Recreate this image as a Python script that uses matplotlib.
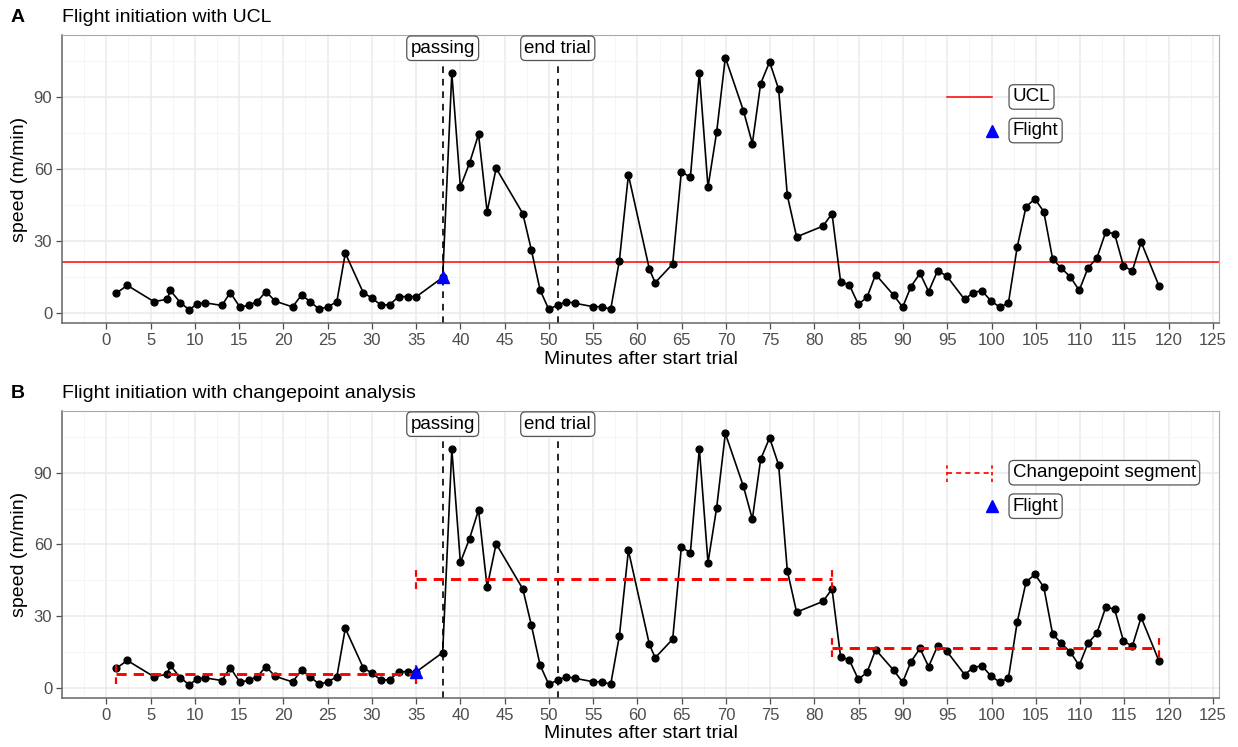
import numpy as np
import matplotlib
matplotlib.use('Agg')
import matplotlib.pyplot as plt
from matplotlib.ticker import MultipleLocator

plt.rcParams['font.family'] = ['Liberation Sans', 'DejaVu Sans']

# minutes after start of trial and speed (m/min)
minutes = [1.13, 2.37, 5.38, 6.89, 7.23, 8.36, 9.37, 10.3, 11.2, 13.06,
           14.0, 15.1, 16.07, 17.05, 18.03, 19.08, 21.04, 22.06, 23.04, 24.05,
           25.03, 26.04, 27.0, 29.02, 30.04, 31.05, 32.03, 33.04, 34.06, 35.04,
           38.0, 39.03, 40.0, 41.03, 42.05, 43.02, 44.04, 47.05, 48.02, 49.0,
           49.98, 51.0, 51.97, 52.99, 54.99, 56.0, 56.98, 57.96, 58.98, 61.35,
           62.0, 63.98, 64.96, 65.98, 66.99, 67.97, 68.95, 69.93, 71.97, 72.98,
           73.92, 74.93, 75.95, 76.93, 77.98, 80.97, 81.98, 82.95, 83.93, 84.95,
           85.93, 86.91, 88.94, 89.96, 90.9, 91.92, 92.89, 93.91, 94.93, 96.96,
           97.93, 98.91, 99.93, 100.9, 101.9, 102.9, 103.9, 104.9, 105.9, 106.9,
           107.9, 108.9, 109.9, 110.9, 111.9, 112.9, 113.9, 114.9, 115.9, 116.9,
           118.9]
speed = [8.2, 11.5, 4.7, 5.7, 9.4, 4.3, 1.3, 3.9, 4.2, 3.1,
         8.5, 2.4, 3.2, 4.7, 8.9, 4.9, 2.5, 7.5, 4.7, 1.5,
         2.6, 4.6, 24.9, 8.5, 6.1, 3.2, 3.5, 6.8, 6.8, 6.8,
         14.8, 99.9, 52.5, 62.4, 74.4, 42.2, 60.3, 41.4, 26.2, 9.6,
         1.5, 3.3, 4.7, 4.0, 2.6, 2.6, 1.5, 21.8, 57.5, 18.2,
         12.6, 20.4, 58.9, 56.5, 100.1, 52.4, 75.4, 106.4, 84.3, 70.6,
         95.6, 104.6, 93.2, 49.0, 31.7, 36.2, 41.4, 13.0, 11.7, 3.6,
         6.5, 16.0, 7.4, 2.4, 11.0, 16.5, 8.9, 17.6, 15.4, 5.6,
         8.5, 9.3, 5.0, 2.5, 4.0, 27.5, 44.3, 47.5, 42.2, 22.5,
         18.6, 15.0, 9.4, 18.75, 22.9, 33.75, 33.0, 19.6, 17.5, 29.5,
         11.4]

ucl = 21.1
passing_time = 38
end_trial_time = 51
flight_ucl = (38.0, 14.8)
flight_cp = (35.04, 6.8)

seg_start = [1.13, 35.04, 81.98]
seg_end = [35.04, 81.98, 118.9]
seg_mean = [5.8, 45.5, 16.8]
seg_tick = 4.0

xticks = list(range(0, 130, 5))
yticks = [0, 30, 60, 90]

fig = plt.figure(figsize=(12.38, 7.47), dpi=100)
axA = fig.add_axes([0.0501, 0.5676, 0.9346, 0.3855])
axB = fig.add_axes([0.0501, 0.0656, 0.9346, 0.3842])

label_box = dict(boxstyle='round,pad=0.2,rounding_size=0.25', fc='white',
                 ec='#555555', lw=0.9)
LBL = 13.5


def base(ax):
    ax.set_xlim(-5, 125.7)
    ax.set_ylim(-4.2, 115.8)
    ax.set_xticks(xticks)
    ax.set_yticks(yticks)
    ax.xaxis.set_minor_locator(MultipleLocator(2.5))
    ax.yaxis.set_minor_locator(MultipleLocator(15))
    ax.grid(which='major', color='#ebebeb', lw=1.1, zorder=0)
    ax.grid(which='minor', color='#f4f4f4', lw=0.6, zorder=0)
    ax.set_axisbelow(True)
    ax.tick_params(which='major', labelsize=12, colors='#4d4d4d', length=4,
                   width=0.9, pad=3)
    ax.tick_params(which='minor', length=0)
    for s in ['top', 'right']:
        ax.spines[s].set_color('#aaaaaa')
        ax.spines[s].set_linewidth(0.8)
    for s in ['left', 'bottom']:
        ax.spines[s].set_color('#666666')
        ax.spines[s].set_linewidth(1.1)
    ax.set_xlabel('Minutes after start trial', fontsize=14, labelpad=2)
    ax.set_ylabel('speed (m/min)', fontsize=14, labelpad=4)

    ax.plot(minutes, speed, color='black', lw=1.2, zorder=3)
    ax.scatter(minutes, speed, s=24, color='black', zorder=4)

    for t, lab in [(passing_time, 'passing'), (end_trial_time, 'end trial')]:
        ax.axvline(t, color='black', lw=1.2, ls=(0, (4, 3.5)), zorder=2)
        ax.text(t, 110.3, lab, ha='center', va='center', fontsize=LBL,
                bbox=label_box, zorder=6)


# Panel A
base(axA)
axA.axhline(ucl, color='#ff0000', lw=1.1, zorder=2)
axA.plot(*flight_ucl, marker='^', color='#0000ff', ms=9, zorder=5, ls='none')
axA.plot([95, 100], [90, 90], color='#ff0000', lw=1.1)
axA.plot(100, 76, marker='^', color='#0000ff', ms=9, ls='none')
axA.text(102.4, 90, 'UCL', ha='left', va='center', fontsize=LBL, bbox=label_box)
axA.text(102.4, 76, 'Flight', ha='left', va='center', fontsize=LBL, bbox=label_box)

# Panel B
base(axB)
for x0, x1, m in zip(seg_start, seg_end, seg_mean):
    axB.plot([x0, x1], [m, m], color='#ff0000', lw=2.1, ls=(0, (3.5, 2.4)), zorder=5)
    for xe in (x0, x1):
        axB.plot([xe, xe], [m - seg_tick, m + seg_tick], color='#ff0000',
                 lw=1.6, ls=(0, (3, 2.5)), zorder=5)
axB.plot(*flight_cp, marker='^', color='#0000ff', ms=9, zorder=6, ls='none')
axB.plot([95, 100], [90, 90], color='#ff0000', lw=1.2, ls=(0, (3, 2.5)))
for xe in (95, 100):
    axB.plot([xe, xe], [90 - seg_tick, 90 + seg_tick], color='#ff0000', lw=1.2,
             ls=(0, (2, 2)))
axB.plot(100, 76, marker='^', color='#0000ff', ms=9, ls='none')
axB.text(102.4, 90, 'Changepoint segment', ha='left', va='center', fontsize=LBL,
         bbox=label_box)
axB.text(102.4, 76, 'Flight', ha='left', va='center', fontsize=LBL, bbox=label_box)

# panel titles
fig.text(0.0088, 0.976, 'A', fontsize=14, fontweight='bold', va='center')
fig.text(0.0501, 0.976, 'Flight initiation with UCL', fontsize=14, va='center')
fig.text(0.0088, 0.473, 'B', fontsize=14, fontweight='bold', va='center')
fig.text(0.0501, 0.473, 'Flight initiation with changepoint analysis',
         fontsize=14, va='center')

fig.savefig('out.png', dpi=100)
